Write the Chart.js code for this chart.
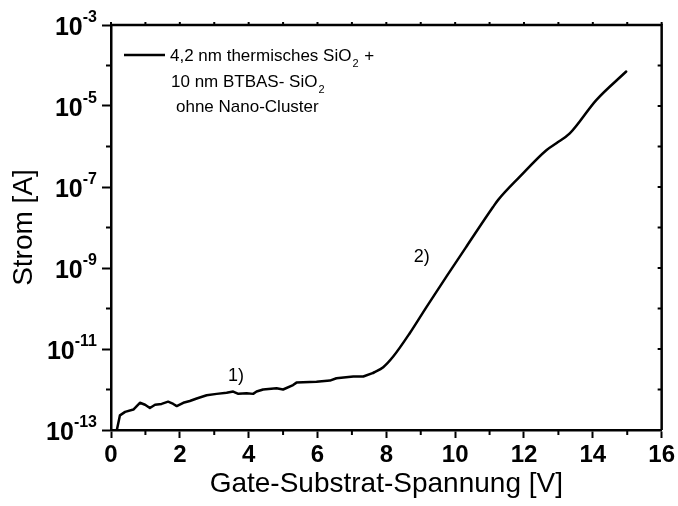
<!DOCTYPE html>
<html>
<head>
<meta charset="utf-8">
<script src="https://cdn.jsdelivr.net/npm/chart.js@4"></script>
<style>
  body { margin: 0; background: #fff; }
  #wrap { width: 678px; height: 506px; }
</style>
</head>
<body>
<div id="wrap"><canvas id="myChart"></canvas></div>
<script>
const voltage = [0.17, 0.26, 0.41, 0.65, 0.84, 0.99, 1.13, 1.28, 1.47, 1.66, 1.81, 1.91, 2.10, 2.29, 2.49,
                 2.78, 3.07, 3.36, 3.55, 3.70, 3.94, 4.13, 4.23, 4.42, 4.81, 5.00, 5.29, 5.39, 5.97, 6.36,
                 6.55, 7.04, 7.33, 7.62, 7.91, 8.20, 8.68, 9.17, 9.75, 10.33, 11.10, 11.25, 11.88, 12.65,
                 12.94, 13.33, 14.10, 14.97];
const current = [1.0e-13, 2.3e-13, 2.8e-13, 3.2e-13, 4.7e-13, 4.2e-13, 3.5e-13, 4.2e-13, 4.4e-13, 5.0e-13,
                 4.4e-13, 3.9e-13, 4.7e-13, 5.2e-13, 6.0e-13, 7.2e-13, 7.8e-13, 8.3e-13, 8.9e-13, 7.8e-13,
                 8.1e-13, 7.8e-13, 8.9e-13, 1.0e-12, 1.07e-12, 1.0e-12, 1.29e-12, 1.48e-12, 1.55e-12, 1.66e-12,
                 1.9e-12, 2.1e-12, 2.1e-12, 2.57e-12, 3.55e-12, 6.5e-12, 2.45e-11, 1.1e-10, 6.2e-10, 3.4e-9,
                 3.2e-8, 4.8e-8, 1.8e-7, 8.1e-7, 1.2e-6, 2.1e-6, 1.4e-5, 7.1e-5];
// noisy plateau drawn straight, the breakdown branch drawn smooth
const plateauEnd = 7.62;

const decades = [-13, -12, -11, -10, -9, -8, -7, -6, -5, -4, -3];
const xTicks = [0, 1, 2, 3, 4, 5, 6, 7, 8, 9, 10, 11, 12, 13, 14, 15, 16];
const legendLines = ['4,2 nm thermisches SiO', '10 nm BTBAS- SiO', 'ohne Nano-Cluster'];
const notes = [
  { text: '1)', x: 3.63, y: 2.1e-12 },
  { text: '2)', x: 9.03, y: 1.86e-9 }
];

const FONT = "'Liberation Sans', Arial, sans-serif";

const extras = {
  id: 'extras',
  afterDraw(chart) {
    const ctx = chart.ctx;
    const xs = chart.scales.x, ys = chart.scales.y;
    const a = chart.chartArea;
    ctx.save();
    ctx.strokeStyle = '#000';
    ctx.fillStyle = '#000';

    // top and right frame
    ctx.lineWidth = 2.5;
    ctx.beginPath();
    ctx.moveTo(a.left, a.top);
    ctx.lineTo(a.right, a.top);
    ctx.lineTo(a.right, a.bottom);
    ctx.stroke();

    // minor ticks + mirrored ticks
    ctx.lineWidth = 2;
    ctx.beginPath();
    xTicks.forEach(v => {
      const px = xs.getPixelForValue(v);
      if (v % 2 === 1) { ctx.moveTo(px, a.bottom); ctx.lineTo(px, a.bottom + 5); }
      ctx.moveTo(px, a.top); ctx.lineTo(px, a.top - 3);
    });
    decades.forEach(e => {
      const py = ys.getPixelForValue(Math.pow(10, e));
      if (Math.abs(e) % 2 === 0) { ctx.moveTo(a.left, py); ctx.lineTo(a.left - 5, py); }
      ctx.moveTo(a.right, py); ctx.lineTo(a.right - 4, py);
    });
    ctx.stroke();

    // y labels 10^n
    decades.filter(e => Math.abs(e) % 2 === 1).forEach(e => {
      const py = ys.getPixelForValue(Math.pow(10, e));
      const exp = String(e);
      ctx.font = 'bold 16px ' + FONT;
      const ew = ctx.measureText(exp).width;
      const right = 97;
      ctx.textAlign = 'left';
      ctx.textBaseline = 'alphabetic';
      ctx.fillText(exp, right - ew, py - 3);
      ctx.font = 'bold 25px ' + FONT;
      ctx.textAlign = 'right';
      ctx.fillText('10', right - ew, py + 10);
    });

    // legend
    ctx.lineWidth = 2.5;
    ctx.beginPath();
    ctx.moveTo(124, 55);
    ctx.lineTo(165, 55);
    ctx.stroke();
    ctx.textAlign = 'left';
    ctx.textBaseline = 'alphabetic';
    const lx = [170, 171, 176], ly = [61, 87, 112];
    legendLines.forEach((t, i) => {
      ctx.font = '17px ' + FONT;
      ctx.fillText(t, lx[i], ly[i]);
      if (i < 2) {
        let w = ctx.measureText(t).width;
        ctx.font = '11px ' + FONT;
        ctx.fillText('2', lx[i] + w + 1, ly[i] + 6);
        if (i === 0) {
          const w2 = ctx.measureText('2').width;
          ctx.font = '17px ' + FONT;
          ctx.fillText(' +', lx[i] + w + w2 + 2, ly[i]);
        }
      }
    });

    // notes
    ctx.font = '18px ' + FONT;
    ctx.textAlign = 'center';
    ctx.textBaseline = 'middle';
    notes.forEach(n => {
      ctx.fillText(n.text, xs.getPixelForValue(n.x), ys.getPixelForValue(n.y));
    });
    ctx.restore();
  }
};

const points = voltage.map((v, i) => ({ x: v, y: current[i] }));
const plateau = points.filter(p => p.x <= plateauEnd);
const rise = points.filter(p => p.x >= plateauEnd);

const lineStyle = {
  borderColor: '#000',
  borderWidth: 2.5,
  borderJoinStyle: 'round',
  borderCapStyle: 'round',
  pointRadius: 0,
  fill: false
};

new Chart(document.getElementById('myChart'), {
  type: 'line',
  data: {
    datasets: [
      Object.assign({ label: legendLines.join(' '), data: plateau, tension: 0 }, lineStyle),
      Object.assign({ label: 'rise', data: rise, cubicInterpolationMode: 'monotone' }, lineStyle)
    ]
  },
  options: {
    responsive: true,
    maintainAspectRatio: false,
    animation: false,
    layout: { padding: { top: 25, right: 16, left: 0, bottom: 0 } },
    plugins: { legend: { display: false }, tooltip: { enabled: false } },
    scales: {
      x: {
        type: 'linear',
        min: 0,
        max: 16,
        afterBuildTicks: s => { s.ticks = xTicks.map(v => ({ value: v })); },
        afterFit: s => { s.height = 76; },
        ticks: {
          autoSkip: false,
          maxRotation: 0,
          padding: 3,
          color: '#000',
          font: { family: FONT, size: 24, weight: 'bold' },
          callback: v => (v % 2 === 0 ? String(v) : '')
        },
        grid: {
          drawOnChartArea: false,
          drawTicks: true,
          tickLength: 8,
          tickWidth: 2,
          tickColor: c => (c.tick && c.tick.value % 2 === 0 ? '#000' : 'rgba(0,0,0,0)')
        },
        border: { display: true, color: '#000', width: 2.5 },
        title: {
          display: true,
          text: 'Gate-Substrat-Spannung [V]',
          color: '#000',
          font: { family: FONT, size: 28 },
          padding: { top: 0, bottom: 5 }
        }
      },
      y: {
        type: 'logarithmic',
        min: 1e-13,
        max: 1e-3,
        afterBuildTicks: s => { s.ticks = decades.map(e => ({ value: Math.pow(10, e) })); },
        afterFit: s => { s.width = 111; },
        ticks: { display: false },
        grid: {
          drawOnChartArea: false,
          drawTicks: true,
          tickLength: 9,
          tickWidth: 2,
          tickColor: c => (c.tick && Math.abs(Math.round(Math.log10(c.tick.value))) % 2 === 1 ? '#000' : 'rgba(0,0,0,0)')
        },
        border: { display: true, color: '#000', width: 2.5 },
        title: {
          display: true,
          text: 'Strom [A]',
          color: '#000',
          font: { family: FONT, size: 28 },
          padding: { top: 7, bottom: 0 }
        }
      }
    }
  },
  plugins: [extras]
});
</script>
</body>
</html>
